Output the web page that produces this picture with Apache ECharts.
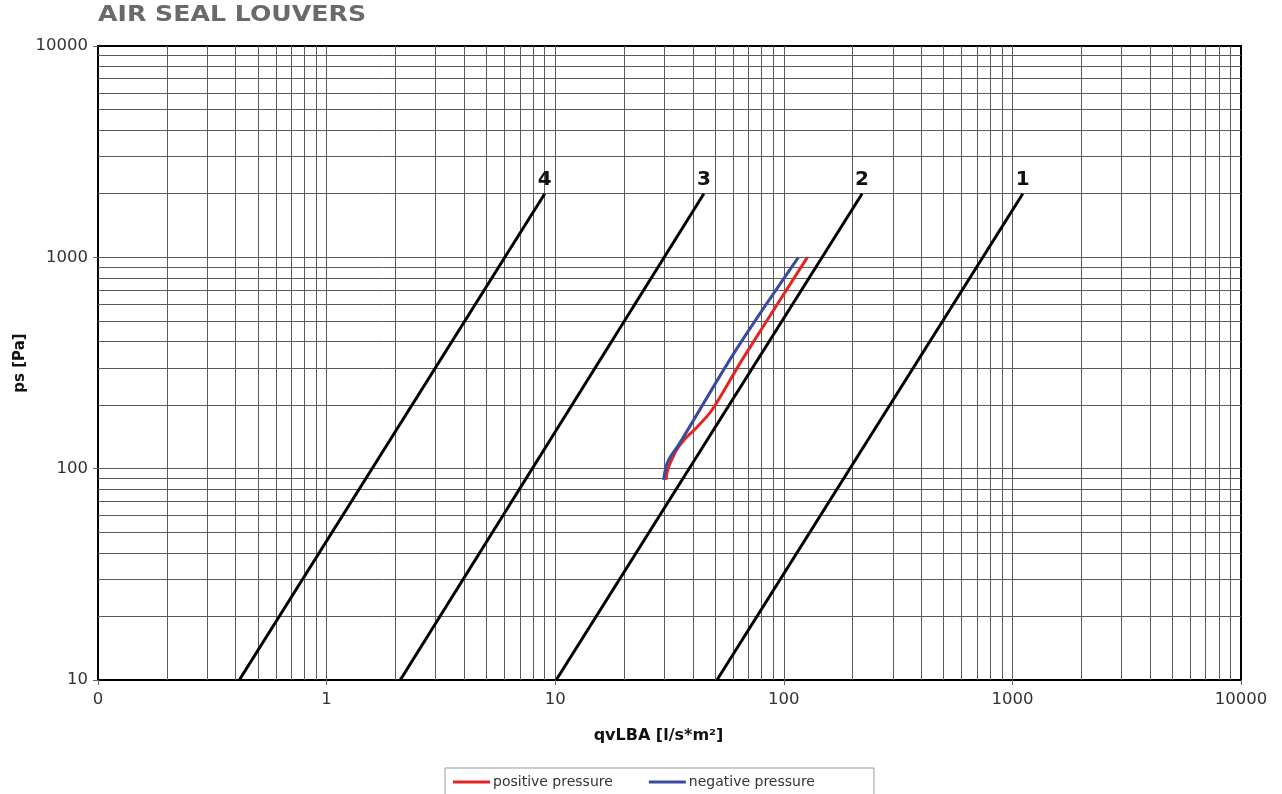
<!DOCTYPE html>
<html>
<head>
<meta charset="utf-8">
<script src="https://cdn.jsdelivr.net/npm/echarts@6/dist/echarts.min.js"></script>
<style>
  html, body { margin: 0; padding: 0; background: #fff; }
  #chart { width: 1282px; height: 794px; }
</style>
</head>
<body>
<div id="chart"></div>
<script>
// ---- chart text ----
const chartTitle = 'AIR SEAL LOUVERS';
const xAxisName = 'qvLBA [l/s*m²]';
const yAxisName = 'ps [Pa]';
const seriesNames = ['positive pressure', 'negative pressure'];

// ---- axis ranges (log scale) ----
const xRange = [0.1, 10000];
const yRange = [10, 10000];

// ---- leakage class reference lines, [qvLBA, ps] ----
const classLabels = ['1', '2', '3', '4'];
const class1 = [[51, 10], [1110, 2000]];
const class2 = [[10.1, 10], [220, 2000]];
const class3 = [[2.1, 10], [44.7, 2000]];
const class4 = [[0.415, 10], [9, 2000]];

// ---- measured curves, [qvLBA, ps] ----
const positivePressure = [
  [30.5, 88.5], [31.05, 98.7], [32.3, 110], [34.0, 123], [36.6, 136.8],
  [41.9, 158], [48.6, 190], [66, 330], [126.7, 1000]
];
const negativePressure = [
  [29.8, 88.5], [30.7, 104.2], [32.3, 116.2], [34.9, 131],
  [61.8, 365], [115.8, 1000]
];

const FONT = 'DejaVu Sans';
const GRID_COLOR = '#5a5a5a';

// log grid lines: 1..9 times every decade inside the plotted range
function logGridValues(lo, hi) {
  const out = [];
  for (let d = Math.round(Math.log10(lo)); d < Math.round(Math.log10(hi)); d++) {
    for (let m = 1; m <= 9; m++) {
      const v = +(m * Math.pow(10, d)).toPrecision(6);
      if (v > lo && v < hi) out.push(v);
    }
  }
  return out;
}

const gridLines = []
  .concat(logGridValues(xRange[0], xRange[1]).map(v => ({ xAxis: v })))
  .concat(logGridValues(yRange[0], yRange[1]).map(v => ({ yAxis: v })));

function tickText(v) {
  if (v < 0.5) return '0';
  return String(Math.round(v));
}

const classSets = [class1, class2, class3, class4];
const classSeries = classSets.map((pts, i) => ({
  name: 'class ' + classLabels[i],
  type: 'line',
  z: 3,
  symbol: 'circle',
  symbolSize: 1,
  showSymbol: true,
  silent: true,
  itemStyle: { color: 'rgba(0,0,0,0)' },
  lineStyle: { color: '#000', width: 3 },
  data: pts.map((p, k) => k === pts.length - 1
    ? { value: p, label: { show: true, formatter: classLabels[i], position: 'top', distance: 3,
        fontFamily: FONT, fontWeight: 'bold', fontSize: 20, color: '#111' } }
    : { value: p })
}));

const option = {
  backgroundColor: '#fff',
  animation: false,
  textStyle: { fontFamily: FONT },
  graphic: [{
    type: 'text',
    x: 98, y: 16,
    scaleX: 1.2,
    style: {
      text: chartTitle,
      fill: '#6a6a6a',
      font: 'bold 21px "DejaVu Sans"',
      textVerticalAlign: 'middle',
      verticalAlign: 'middle'
    }
  }],
  grid: {
    left: 98, right: 41, top: 46, bottom: 114,
    show: true, borderColor: '#000', borderWidth: 2, backgroundColor: 'transparent'
  },
  legend: {
    data: [
      { name: seriesNames[0], icon: 'rect' },
      { name: seriesNames[1], icon: 'rect' }
    ],
    left: 445, top: 768,
    borderColor: '#9a9a9a', borderWidth: 1, borderRadius: 0,
    padding: [7, 59, 20, 8],
    itemGap: 36, itemWidth: 37, itemHeight: 3,
    textStyle: { fontFamily: FONT, fontSize: 14, color: '#333', padding: [0, 0, 0, -2] }
  },
  xAxis: {
    type: 'log', logBase: 10,
    min: xRange[0], max: xRange[1],
    name: xAxisName, nameLocation: 'middle', nameGap: 48, nameMoveOverlap: false,
    nameTextStyle: { fontFamily: FONT, fontWeight: 'bold', fontSize: 16, color: '#111', padding: [0, 22, 0, 0] },
    axisLine: { show: false },
    axisTick: { show: true, length: 5, lineStyle: { color: '#666' } },
    axisLabel: { margin: 11, fontFamily: FONT, fontSize: 16.5, color: '#333', formatter: tickText },
    splitLine: { show: false }
  },
  yAxis: {
    type: 'log', logBase: 10,
    min: yRange[0], max: yRange[1],
    name: yAxisName, nameLocation: 'middle', nameGap: 70, nameMoveOverlap: false,
    nameTextStyle: { fontFamily: FONT, fontWeight: 'bold', fontSize: 15, color: '#111' },
    axisLine: { show: false },
    axisTick: { show: true, length: 5, lineStyle: { color: '#666' } },
    axisLabel: { margin: 10, fontFamily: FONT, fontSize: 16.5, color: '#333', formatter: tickText },
    splitLine: { show: false }
  },
  series: [
    {
      name: 'grid',
      type: 'line',
      data: [],
      silent: true,
      markLine: {
        z: 1,
        silent: true,
        symbol: 'none',
        animation: false,
        label: { show: false },
        emphasis: { disabled: true },
        lineStyle: { color: GRID_COLOR, width: 1, type: 'solid' },
        data: gridLines
      }
    }
  ].concat(classSeries).concat([
    {
      name: seriesNames[0],
      type: 'line',
      z: 4,
      symbol: 'none',
      smooth: 0.3,
      color: '#e52421',
      lineStyle: { color: '#e52421', width: 3 },
      data: positivePressure
    },
    {
      name: seriesNames[1],
      type: 'line',
      z: 4,
      symbol: 'none',
      smooth: 0.3,
      color: '#3b4aa1',
      lineStyle: { color: '#3b4aa1', width: 3 },
      data: negativePressure
    }
  ])
};

const chart = echarts.init(document.getElementById('chart'), null, { renderer: 'canvas' });
chart.setOption(option);
</script>
</body>
</html>
